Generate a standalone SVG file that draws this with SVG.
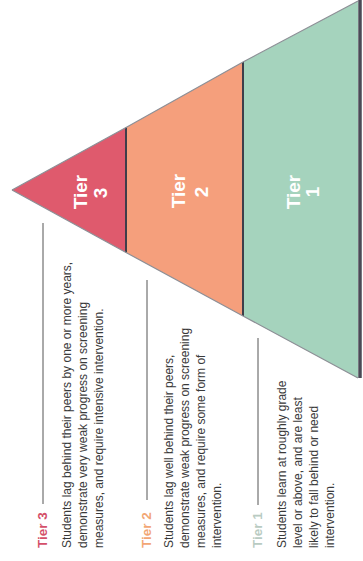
<svg xmlns="http://www.w3.org/2000/svg" width="363" height="561" viewBox="0 0 363 561">
<style>
.body{font-family:"Liberation Sans",Arial,sans-serif;font-size:12px;fill:#3a3a3a}
.head{font-family:"Liberation Sans",Arial,sans-serif;font-size:13.5px;font-weight:bold}
.lbl{font-family:"Liberation Sans",Arial,sans-serif;font-size:19px;font-weight:bold;fill:#ffffff;text-anchor:middle}
.sep{stroke:#3e3e4a;stroke-width:2}
.rule{stroke:#555;stroke-width:1;fill:none}
.edge{stroke:#8d8f96;stroke-width:1.2;fill:none}
</style>
<rect width="363" height="561" fill="#ffffff"/>
<g id="tier1">
<polygon points="243,62 358,1 358,378 243,316" fill="#a5d3bd"/>
<g transform="rotate(-90)"><text class="lbl" x="-192" y="300">Tier</text><text class="lbl" x="-192" y="319">1</text></g>
</g>
<g id="tier2">
<polygon points="126,127.5 243,62 243,316 126,252.5" fill="#f59f7c"/>
<g transform="rotate(-90)"><text class="lbl" x="-191" y="185">Tier</text><text class="lbl" x="-192" y="208">2</text></g>
</g>
<g id="tier3">
<polygon points="12,190 126,127.5 126,252.5" fill="#df5a6d"/>
<g transform="rotate(-90)"><text class="lbl" x="-192" y="87">Tier</text><text class="lbl" x="-193" y="107">3</text></g>
</g>
<g id="outline">
<line class="sep" x1="126" y1="127.5" x2="126" y2="252.5"/>
<line class="sep" x1="243" y1="62" x2="243" y2="316"/>
<line x1="360" y1="0" x2="360" y2="378" stroke="#4a4a56" stroke-width="3.5"/>
<polyline class="edge" points="12,190 126,127.5 243,62 358,1"/>
<polyline class="edge" points="12,190 126,252.5 243,316 358,378" stroke-width="0.7"/>
</g>
<g id="connectors">
<line class="rule" x1="43" y1="223" x2="43" y2="504"/>
<line class="rule" x1="147" y1="280" x2="147" y2="500"/>
<line class="rule" x1="258" y1="338" x2="258" y2="505"/>
</g>
<g id="desc-tier3" transform="rotate(-90)">
<text class="head" x="-548" y="47" fill="#d4506a">Tier 3</text>
<text class="body" x="-548" y="71">Students lag behind their peers by one or more years,</text>
<text class="body" x="-548" y="87">demonstrate very weak progress on screening</text>
<text class="body" x="-548" y="103">measures, and require intensive intervention.</text>
</g>
<g id="desc-tier2" transform="rotate(-90)">
<text class="head" x="-548" y="151" fill="#f2a674">Tier 2</text>
<text class="body" x="-548" y="173">Students lag well behind their peers,</text>
<text class="body" x="-548" y="189">demonstrate weak progress on screening</text>
<text class="body" x="-548" y="205">measures, and require some form of</text>
<text class="body" x="-548" y="221">intervention.</text>
</g>
<g id="desc-tier1" transform="rotate(-90)">
<text class="head" x="-548" y="262" fill="#b9cbc2">Tier 1</text>
<text class="body" x="-548" y="286">Students learn at roughly grade</text>
<text class="body" x="-548" y="302">level or above, and are least</text>
<text class="body" x="-548" y="318">likely to fall behind or need</text>
<text class="body" x="-548" y="334">intervention.</text>
</g>
</svg>
